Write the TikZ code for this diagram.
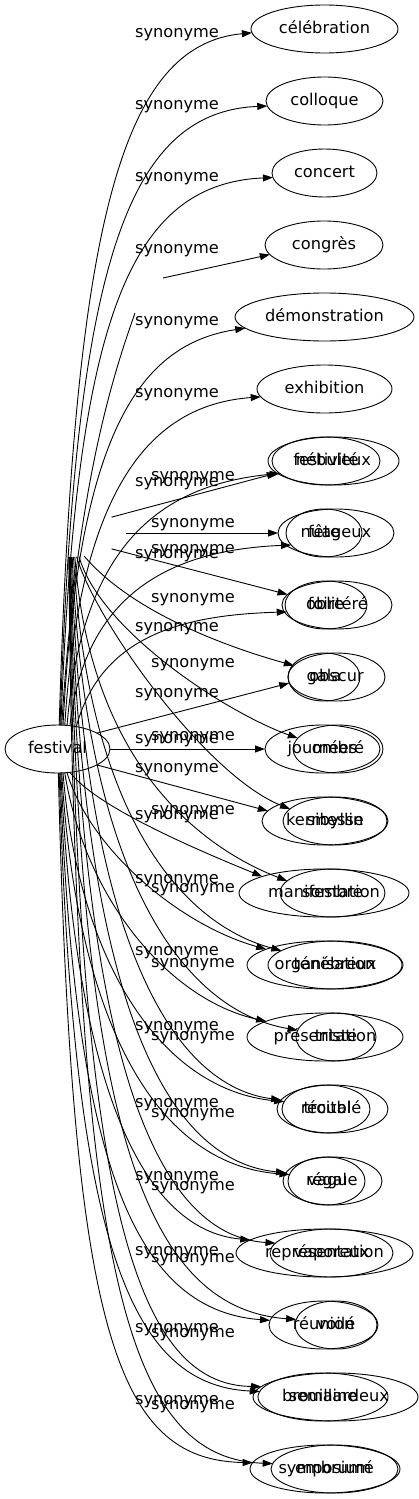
\documentclass[tikz,border=0pt]{standalone}
\usepackage{fontspec}
\setmainfont{DejaVu Sans}
\usetikzlibrary{shapes.geometric,arrows.meta}
\newcommand\gvfont{\fontsize{16.2}{19}\selectfont}
\begin{document}
\begin{tikzpicture}[x=1pt,y=-1pt,
  nd/.style={draw, ellipse, inner sep=0pt, outer sep=0pt, minimum height=48pt, line width=0.9pt, font=\gvfont, text height=12pt, text depth=3.5pt},
  hubst/.style={ellipse, inner sep=0pt, outer sep=0pt, minimum height=48pt, minimum width=116pt},
  lbl/.style={inner sep=0pt, font=\gvfont, text height=12pt, text depth=3.5pt},
  ed/.style={line width=0.9pt, -{Triangle[length=10pt,width=7pt]}},
  ln/.style={line width=0.9pt}]
\useasboundingbox (0,0) rectangle (419,1499);

% centre nodes
\node[nd, minimum width=105pt] (festival) at (57.5,749) {festival};
\node[hubst] (hub) at (68,533) {};

% first set of nodes
\node[nd, minimum width=147pt] (n1) at (324.5,29) {célébration};
\node[nd, minimum width=117pt] (n2) at (324.5,101) {colloque};
\node[nd, minimum width=105pt] (n3) at (324.5,173) {concert};
\node[nd, minimum width=118pt] (n4) at (324,245) {congrès};
\node[nd, minimum width=179pt] (n5) at (324.5,317) {démonstration};
\node[nd, minimum width=135pt] (n6) at (324.5,389) {exhibition};
\node[nd, minimum width=108pt] (n7) at (326,461) {festivité};
\node[nd, minimum width=76pt] (n8) at (324,533) {fête};
\node[nd, minimum width=82pt] (n9) at (326,605) {foire};
\node[nd, minimum width=72pt] (n10) at (324,677) {gala};
\node[nd, minimum width=115pt] (n11) at (322.5,749) {journées};
\node[nd, minimum width=126pt] (n12) at (325,821) {kermesse};
\node[nd, minimum width=170pt] (n13) at (324,893) {manifestation};
\node[nd, minimum width=156pt] (n14) at (325,965) {organisation};
\node[nd, minimum width=156pt] (n15) at (325,1037) {présentation};
\node[nd, minimum width=88pt] (n16) at (326,1109) {récital};
\node[nd, minimum width=77pt] (n17) at (326.5,1181) {régal};
\node[nd, minimum width=177pt] (n18) at (324.5,1253) {représentation};
\node[nd, minimum width=109pt] (n19) at (323.5,1325) {réunion};
\node[nd, minimum width=130pt] (n20) at (323,1397) {semaine};
\node[nd, minimum width=150pt] (n21) at (325,1469) {symposium};

% second set of nodes
\node[nd, minimum width=131pt] (m7) at (333.5,461) {nébuleux};
\node[nd, minimum width=116pt] (m8) at (336,533) {nuageux};
\node[nd, minimum width=110pt] (m9) at (337,605) {oblitéré};
\node[nd, minimum width=97pt] (m10) at (336.5,677) {obscur};
\node[nd, minimum width=90pt] (m11) at (338,749) {ombré};
\node[nd, minimum width=104pt] (m12) at (335,821) {sibyllin};
\node[nd, minimum width=105pt] (m13) at (332.5,893) {sombre};
\node[nd, minimum width=134pt] (m14) at (335,965) {ténébreux};
\node[nd, minimum width=80pt] (m15) at (336,1037) {triste};
\node[nd, minimum width=111pt] (m16) at (332.5,1109) {troublé};
\node[nd, minimum width=99pt] (m17) at (332.5,1181) {vague};
\node[nd, minimum width=123pt] (m18) at (331.5,1253) {vaporeux};
\node[nd, minimum width=82pt] (m19) at (336,1325) {voilé};
\node[nd, minimum width=165pt] (m20) at (335.5,1397) {brouillardeux};
\node[nd, minimum width=127pt] (m21) at (334.5,1469) {embrumé};

% first set of edges
\draw[ed] (festival.86) .. controls (74,227) and (120,45) .. (n1.183);
\draw[ed] (festival.84) .. controls (75,279) and (122,112) .. (n2.185);
\draw[ed] (festival.82) .. controls (76,330) and (125,184) .. (n3.185);
\coordinate (c4a) at (135,313);
\coordinate (c4b) at (163,278);
\draw[ln] (festival.80) .. controls (77,480) and (115,370) .. (c4a);
\draw[ed] (c4b) -- (n4.190);
\draw[ed] (festival.77) .. controls (78,441) and (135,345) .. (n5.188);
\draw[ed] (festival.73) .. controls (80,488) and (150,405) .. (n6.187);
\draw[ed] (festival.68) .. controls (82,545) and (160,485) .. (n7.195);
\draw[ed] (festival.62) .. controls (85,594) and (170,550) .. (n8.200);
\draw[ed] (festival.50) .. controls (101,637) and (180,615) .. (n9.190);
\draw[ed] (festival.22) -- (n10.190);
\draw[ed] (festival.east) -- (n11.west);
\draw[ed] (festival.338) -- (n12.170);
\draw[ed] (festival.298) .. controls (95,805) and (185,845) .. (n13.165);
\draw[ed] (festival.292) .. controls (90,850) and (180,925) .. (n14.165);
\draw[ed] (festival.287) .. controls (85,900) and (170,1000) .. (n15.165);
\draw[ed] (festival.283) .. controls (78,960) and (160,1090) .. (n16.170);
\draw[ed] (festival.280) .. controls (76,1010) and (150,1165) .. (n17.170);
\draw[ed] (festival.278) .. controls (75,1080) and (140,1230) .. (n18.170);
\draw[ed] (festival.276) .. controls (74,1150) and (130,1310) .. (n19.175);
\draw[ed] (festival.274) .. controls (73,1230) and (125,1385) .. (n20.175);
\draw[ed] (festival.272) .. controls (72,1330) and (115,1460) .. (n21.175);

% second set of edges
\draw[ed] (hub.20) -- (m7.192);
\draw[ed] (hub.east) -- (m8.west);
\draw[ed] (hub.340) -- (m9.168);
\draw[ed] (hub.305) .. controls (130,610) and (220,645) .. (m10.165);
\draw[ed] (hub.295) .. controls (100,630) and (225,712) .. (m11.165);
\draw[ed] (hub.290) .. controls (95,620) and (205,775) .. (m12.165);
\draw[ed] (hub.286) .. controls (90,760) and (197,846) .. (m13.165);
\draw[ed] (hub.283) .. controls (88,820) and (185,925) .. (m14.165);
\draw[ed] (hub.280) .. controls (85,870) and (180,1010) .. (m15.170);
\draw[ed] (hub.278) .. controls (82,920) and (165,1085) .. (m16.170);
\draw[ed] (hub.276) .. controls (80,980) and (158,1160) .. (m17.170);
\draw[ed] (hub.275) .. controls (78,1040) and (150,1235) .. (m18.170);
\draw[ed] (hub.274) .. controls (77,1110) and (140,1308) .. (m19.172);
\draw[ed] (hub.273) .. controls (76,1190) and (132,1385) .. (m20.172);
\draw[ed] (hub.272) .. controls (75,1270) and (125,1458) .. (m21.175);

% labels, first set
\node[lbl] (a1) at (177,33) {synonyme};
\node[lbl] (a2) at (177,105) {synonyme};
\node[lbl] (a3) at (177,177) {synonyme};
\node[lbl] (a4) at (177,249) {synonyme};
\node[lbl] (a5) at (177,321) {synonyme};
\node[lbl] (a6) at (177,393) {synonyme};
\node[lbl] (a7) at (177,482) {synonyme};
\node[lbl] (a8) at (177,554) {synonyme};
\node[lbl] (a9) at (177,627) {synonyme};
\node[lbl] (a10) at (177,693) {synonyme};
\node[lbl] (a11) at (177,739) {synonyme};
\node[lbl] (a12) at (177,768) {synonyme};
\node[lbl] (a13) at (177,815) {synonyme};
\node[lbl] (a14) at (177,879) {synonyme};
\node[lbl] (a15) at (177,951) {synonyme};
\node[lbl] (a16) at (177,1026) {synonyme};
\node[lbl] (a17) at (177,1103) {synonyme};
\node[lbl] (a18) at (177,1176) {synonyme};
\node[lbl] (a19) at (177,1251) {synonyme};
\node[lbl] (a20) at (177,1328) {synonyme};
\node[lbl] (a21) at (177,1400) {synonyme};

% labels, second set
\node[lbl] (b7) at (193,476) {synonyme};
\node[lbl] (b8) at (193,523) {synonyme};
\node[lbl] (b9) at (193,549) {synonyme};
\node[lbl] (b10) at (193,598) {synonyme};
\node[lbl] (b11) at (193,663) {synonyme};
\node[lbl] (b12) at (193,736) {synonyme};
\node[lbl] (b13) at (193,810) {synonyme};
\node[lbl] (b14) at (193,888) {synonyme};
\node[lbl] (b15) at (193,963) {synonyme};
\node[lbl] (b16) at (193,1036) {synonyme};
\node[lbl] (b17) at (193,1113) {synonyme};
\node[lbl] (b18) at (193,1186) {synonyme};
\node[lbl] (b19) at (193,1258) {synonyme};
\node[lbl] (b20) at (193,1333) {synonyme};
\node[lbl] (b21) at (193,1405) {synonyme};
\end{tikzpicture}
\end{document}
